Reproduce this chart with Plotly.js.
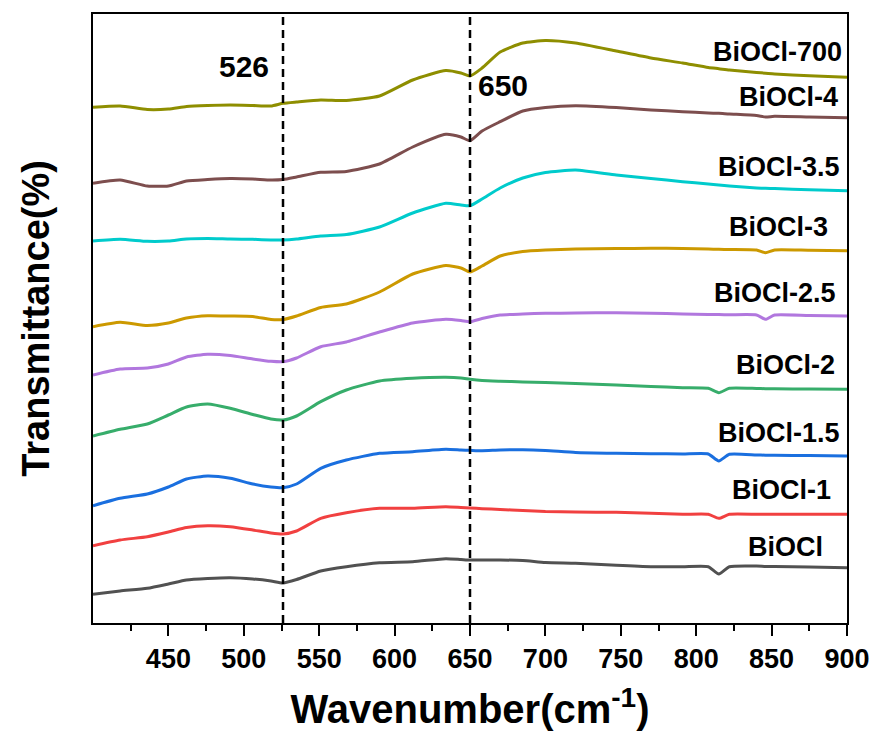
<!DOCTYPE html>
<html>
<head>
<meta charset="utf-8">
<script src="https://cdn.plot.ly/plotly-3.0.1.min.js"></script>
<style>html,body{margin:0;padding:0;background:#fff;}#chart{width:874px;height:740px;}</style>
</head>
<body>
<div id="chart"></div>
<script>
// Wavenumber grid (cm^-1)
const wavenumber = [400, 418, 436, 450, 462, 476, 491, 506, 518, 526, 535, 551, 568, 590, 612, 634, 644, 650, 658, 670, 685, 700, 720, 747, 770, 791, 808, 815, 822, 840, 846, 852, 875, 900];

// Sample names (bottom to top)
const sampleNames = ["BiOCl", "BiOCl-1", "BiOCl-1.5", "BiOCl-2", "BiOCl-2.5", "BiOCl-3", "BiOCl-3.5", "BiOCl-4", "BiOCl-700"];

// Transmittance (arbitrary units, stacked with offsets)
const tBiOCl    = [28.7, 32, 34.7, 39, 43, 44.5, 45.3, 44, 42, 40, 43.5, 52, 56.3, 60.3, 61.3, 64.3, 63.5, 63, 63, 63, 62.5, 60.5, 59.7, 57.7, 56.3, 56.3, 56.3, 49, 56.3, 57, 56.5, 56.5, 56, 55.3];
const tBiOCl_1  = [77.3, 83, 86.3, 91, 95.5, 97.3, 96.3, 93, 90, 89, 92, 104.7, 110.3, 114.7, 114.7, 116.3, 115.5, 115, 114.3, 113.5, 112.5, 111.5, 111, 110.7, 109.7, 108.7, 108.7, 104.7, 108.7, 108.7, 108.7, 108.7, 108.7, 108.7];
const tBiOCl_15 = [117.3, 124.7, 129, 136, 144, 147, 144.7, 139, 136, 135.3, 139, 154.7, 163, 169.7, 171.3, 173.7, 173, 172.7, 172.3, 173, 173.3, 172.5, 170.5, 169.7, 169.3, 169, 169, 162, 168.7, 168, 167.8, 167.7, 167.4, 167];
const tBiOCl_2  = [187, 193.7, 199, 208, 216, 219, 214.7, 208.5, 204, 203, 207, 221.3, 233, 242, 244.7, 245.7, 245, 243.8, 242.6, 241.8, 241, 240.5, 239.5, 238, 236.5, 235.3, 234.7, 230.3, 234.7, 234.5, 234.3, 234.2, 234, 233.7];
const tBiOCl_25 = [248, 254, 255, 259, 266, 268.7, 267.5, 264, 261.7, 261.3, 265, 276.3, 281, 291, 300, 303.7, 302.5, 301.3, 304.5, 308, 309, 309.7, 310, 310.3, 309.8, 309, 308.5, 308.4, 308.2, 308, 303.7, 308, 307.5, 307];
const tBiOCl_3  = [296.3, 300.7, 297.5, 300, 305, 307.3, 307, 306.5, 303.5, 303.5, 307, 315.5, 319, 331, 349, 357.5, 355, 351, 357, 367, 371.5, 373, 374, 374.5, 374.7, 374.5, 374, 373.7, 373.5, 373, 370.3, 373, 372.7, 372.3];
const tBiOCl_35 = [382, 383.7, 381.7, 382, 384, 384.5, 384, 383.7, 383, 383, 384, 387, 388.5, 396, 410, 419.7, 418, 417.3, 424, 435, 445, 450.5, 453, 448, 444.5, 441.3, 439, 438, 437, 435, 434.7, 434.4, 433.2, 432.3];
const tBiOCl_4  = [439.7, 443, 437, 437, 442, 443.5, 444.5, 444, 443, 443.5, 446, 450.7, 451.5, 459, 476, 488.7, 486, 482.3, 492, 501.3, 512, 515.5, 517.3, 515.5, 513, 511.3, 510, 509.7, 509, 507.5, 506, 506.7, 506, 505.3];
const tBiOCl_700= [515.7, 517, 513.5, 514, 516.5, 517.5, 518, 517.5, 517, 519.7, 521, 523, 522.5, 527, 543, 552.5, 550, 547, 555, 571, 580, 582.5, 580, 572, 565, 560, 555.5, 554.3, 553, 550.5, 549.8, 549, 547.2, 545.7];

const seriesValues = [tBiOCl, tBiOCl_1, tBiOCl_15, tBiOCl_2, tBiOCl_25, tBiOCl_3, tBiOCl_35, tBiOCl_4, tBiOCl_700];

// Marked band positions
const markedBands = [526, 650];

// x tick labels
const xTicks = [450, 500, 550, 600, 650, 700, 750, 800, 850, 900];

// Styles (kept apart from the data)
const colors = ["#515151", "#F14040", "#1A6FDF", "#37AD6B", "#B177DE", "#CC9900", "#00CBCC", "#7D4E4E", "#8E8E00"];
const labelY = [76, 133, 190, 258, 330, 396, 456, 526, 571];
const labelShift = [-22, -14, -5, -10, -9, -17, -5, -7, -3];
const FONT = "Liberation Sans, Arial, sans-serif";

const traces = seriesValues.map((vals, i) => ({
  x: wavenumber,
  y: vals,
  type: "scatter",
  mode: "lines",
  name: sampleNames[i],
  line: {color: colors[i], width: 3, shape: "spline", smoothing: 0.55},
  showlegend: false,
  hoverinfo: "x+y+name"
}));

const annotations = sampleNames.map((n, i) => ({
  x: 900, y: labelY[i], xref: "x", yref: "y",
  text: n, showarrow: false, xanchor: "right", yanchor: "middle",
  xshift: labelShift[i],
  font: {family: FONT, size: 27, color: "#000", weight: "bold"}
}));
annotations.push({
  x: markedBands[0], y: 557, xref: "x", yref: "y", text: String(markedBands[0]),
  showarrow: false, xanchor: "right", yanchor: "middle", xshift: -12,
  font: {family: FONT, size: 30, color: "#000", weight: "bold"}
});
annotations.push({
  x: markedBands[1], y: 538, xref: "x", yref: "y", text: String(markedBands[1]),
  showarrow: false, xanchor: "left", yanchor: "middle", xshift: 6,
  font: {family: FONT, size: 30, color: "#000", weight: "bold"}
});

const shapes = markedBands.map(b => ({
  type: "line", xref: "x", yref: "paper", x0: b, x1: b, y0: 0, y1: 1,
  line: {color: "#000", width: 2.5, dash: "8px,5px"}
}));

const layout = {
  width: 874, height: 740,
  margin: {l: 93, r: 27, t: 14, b: 117},
  paper_bgcolor: "#fff", plot_bgcolor: "#fff",
  font: {family: FONT, color: "#000"},
  xaxis: {
    range: [400, 900], tickvals: xTicks, ticktext: xTicks.map(String),
    ticks: "outside", ticklen: 11, tickwidth: 2, tickcolor: "#000",
    minor: {ticks: "outside", ticklen: 6, tickwidth: 2, tickcolor: "#000", tickvals: [425, 475, 525, 575, 625, 675, 725, 775, 825, 875]},
    showline: true, linewidth: 2, linecolor: "#000", mirror: true,
    showgrid: false, zeroline: false,
    tickfont: {family: FONT, size: 27, color: "#000", weight: "bold"},
    title: {text: "Wavenumber(cm<sup>-1</sup>)", font: {family: FONT, size: 40, color: "#000", weight: "bold"}, standoff: 22}
  },
  yaxis: {
    range: [0, 609], showticklabels: false, ticks: "",
    showline: true, linewidth: 2, linecolor: "#000", mirror: true,
    showgrid: false, zeroline: false,
    title: {text: "Transmittance(%)", font: {family: FONT, size: 38, color: "#000", weight: "bold"}, standoff: 30}
  },
  annotations: annotations,
  shapes: shapes
};

Plotly.newPlot("chart", traces, layout, {staticPlot: true, displayModeBar: false});
</script>
</body>
</html>
